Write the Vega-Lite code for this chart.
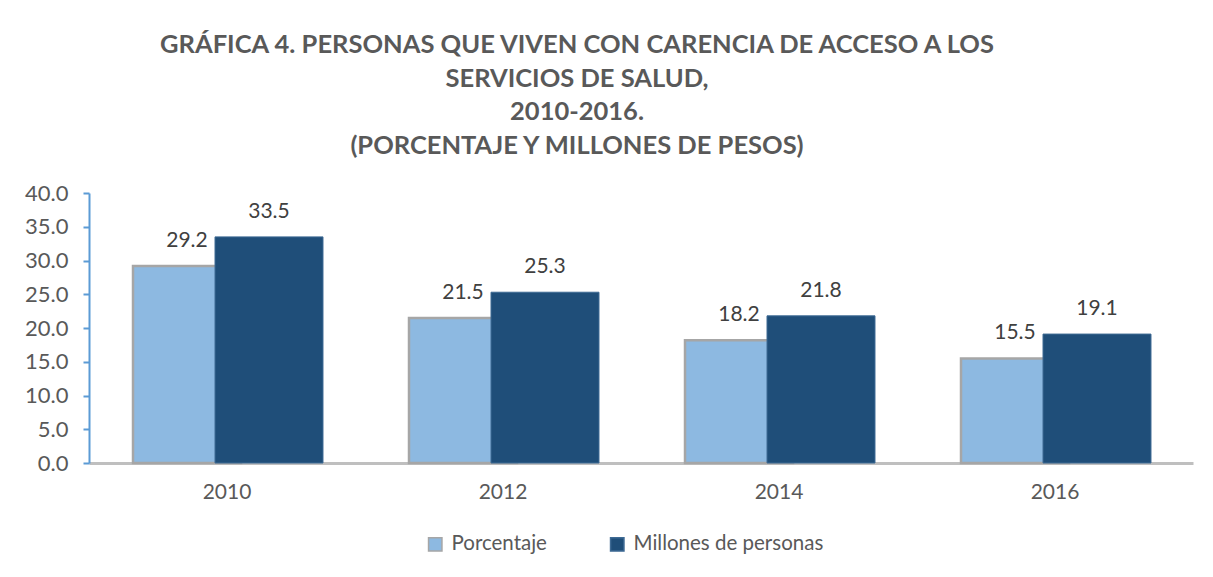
{
  "$schema": "https://vega.github.io/schema/vega-lite/v6.json",
  "width": 1104,
  "height": 270,
  "autosize": "none",
  "padding": {"left": 89, "top": 193, "right": 20, "bottom": 114},
  "background": "white",
  "config": {
    "font": "Lato",
    "view": {"stroke": null}
  },
  "title": {
    "text": ["GRÁFICA 4. PERSONAS QUE VIVEN CON CARENCIA DE ACCESO A LOS", "SERVICIOS DE SALUD,", "2010-2016.", "(PORCENTAJE Y MILLONES DE PESOS)"],
    "fontSize": 25.5,
    "fontWeight": "bold",
    "color": "#595959",
    "lineHeight": 33.5,
    "anchor": "middle",
    "dx": -64,
    "offset": 23
  },
  "data": {
    "values": [
      {"year": "2010", "serie": "Porcentaje", "value": 29.2},
      {"year": "2010", "serie": "Millones de personas", "value": 33.5},
      {"year": "2012", "serie": "Porcentaje", "value": 21.5},
      {"year": "2012", "serie": "Millones de personas", "value": 25.3},
      {"year": "2014", "serie": "Porcentaje", "value": 18.2},
      {"year": "2014", "serie": "Millones de personas", "value": 21.8},
      {"year": "2016", "serie": "Porcentaje", "value": 15.5},
      {"year": "2016", "serie": "Millones de personas", "value": 19.1}
    ]
  },
  "encoding": {
    "x": {
      "field": "year",
      "type": "nominal",
      "scale": {"paddingInner": 0, "paddingOuter": 0},
      "axis": {
        "title": null,
        "labelAngle": 0,
        "labelFontSize": 21,
        "labelColor": "#595959",
        "labelPadding": 18,
        "ticks": false,
        "domainColor": "#BFBFBF",
        "domainWidth": 3
      }
    },
    "y": {
      "field": "value",
      "type": "quantitative",
      "scale": {"domain": [0, 40]},
      "axis": {
        "title": null,
        "values": [0, 5, 10, 15, 20, 25, 30, 35, 40],
        "format": ".1f",
        "grid": false,
        "labelFontSize": 22,
        "labelColor": "#595959",
        "labelPadding": 15,
        "tickSize": 6,
        "tickColor": "#5B9BD5",
        "tickWidth": 2,
        "domainColor": "#5B9BD5",
        "domainWidth": 2
      }
    },
    "color": {
      "field": "serie",
      "type": "nominal",
      "scale": {"domain": ["Porcentaje", "Millones de personas"], "range": ["#8DB9E1", "#1F4E79"]},
      "legend": {
        "title": null,
        "orient": "none",
        "direction": "horizontal",
        "legendX": 336,
        "legendY": 341,
        "symbolType": "square",
        "symbolSize": 180,
        "symbolStrokeWidth": 1.5,
        "labelFontSize": 20.5,
        "labelColor": "#595959",
        "labelOffset": 6,
        "labelLimit": 400,
        "columnPadding": 60
      }
    },
    "stroke": {
      "field": "serie",
      "type": "nominal",
      "scale": {"domain": ["Porcentaje", "Millones de personas"], "range": ["#A6A6A6", "#3E6A94"]},
      "legend": null
    }
  },
  "layer": [
    {
      "transform": [{"filter": "datum.serie === 'Porcentaje'"}],
      "mark": {"type": "bar", "width": {"band": 0.3913}, "xOffset": -40, "strokeWidth": 2.5}
    },
    {
      "transform": [{"filter": "datum.serie === 'Millones de personas'"}],
      "mark": {"type": "bar", "width": {"band": 0.3913}, "xOffset": 42, "strokeWidth": 1}
    },
    {
      "transform": [{"filter": "datum.serie === 'Porcentaje'"}],
      "mark": {"type": "text", "xOffset": -40, "dy": -19, "baseline": "alphabetic", "fontSize": 21, "color": "#404040", "fill": "#404040"},
      "encoding": {"text": {"field": "value", "type": "quantitative", "format": ".1f"}, "color": {"value": "#404040"}, "stroke": {"value": null}}
    },
    {
      "transform": [{"filter": "datum.serie === 'Millones de personas'"}],
      "mark": {"type": "text", "xOffset": 42, "dy": -19, "baseline": "alphabetic", "fontSize": 21, "color": "#404040", "fill": "#404040"},
      "encoding": {"text": {"field": "value", "type": "quantitative", "format": ".1f"}, "color": {"value": "#404040"}, "stroke": {"value": null}}
    }
  ]
}
